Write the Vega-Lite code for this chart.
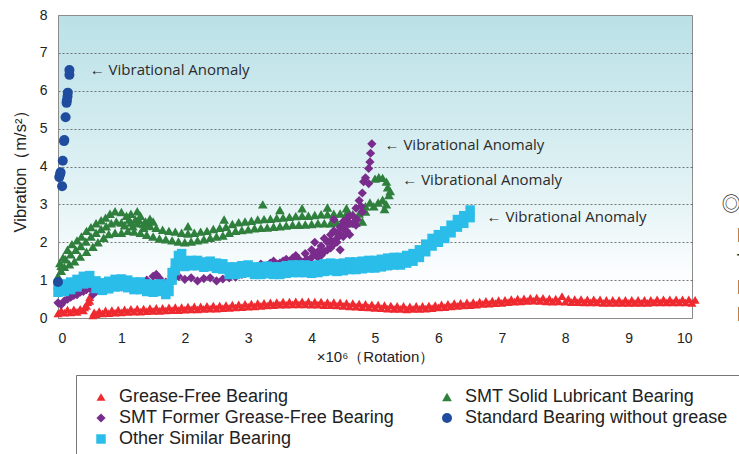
{
"$schema":"https://vega.github.io/schema/vega-lite/v6.json",
"width":634,"height":303,
"autosize":{"type":"none"},
"padding":{"left":58,"top":15,"right":47,"bottom":136},
"background":"white",
"view":{"stroke":"#8c8c8c","strokeWidth":1,"fill":{"gradient":"linear","x1":0,"y1":0,"x2":0,"y2":1,"stops":[{"offset":0,"color":"#bae1e7"},{"offset":0.35,"color":"#d1ebef"},{"offset":0.65,"color":"#e8f5f7"},{"offset":0.85,"color":"#fbfdfe"},{"offset":1,"color":"#ffffff"}]}},
"config":{"font":"Liberation Sans"},
"datasets":{
"notes":[{"x":0.5,"y":6.54,"t":"← Vibrational Anomaly"},{"x":5.15,"y":4.56,"t":"← Vibrational Anomaly"},{"x":5.43,"y":3.64,"t":"← Vibrational Anomaly"},{"x":6.76,"y":2.66,"t":"← Vibrational Anomaly"}],
"side":[{"x":10.47,"y":2.98,"t":"◎T"},{"x":10.7,"y":2.16,"t":"B"},{"x":10.7,"y":1.48,"t":"T"},{"x":10.7,"y":0.79,"t":"B"},{"x":10.7,"y":0.08,"t":"B"}],
"pts":[
{"s":"G","x":0,"y":0.12},{"s":"G","x":0.05,"y":0.2},{"s":"G","x":0.1,"y":0.14},{"s":"G","x":0.15,"y":0.22},{"s":"G","x":0.2,"y":0.15},{"s":"G","x":0.25,"y":0.23},{"s":"G","x":0.3,"y":0.16},{"s":"G","x":0.35,"y":0.24},{"s":"G","x":0.4,"y":0.2},{"s":"G","x":0.42,"y":0.28},{"s":"G","x":0.45,"y":0.32},{"s":"G","x":0.47,"y":0.42},{"s":"G","x":0.5,"y":0.45},{"s":"G","x":0.5,"y":0.55},{"s":"G","x":0.55,"y":0.07},{"s":"G","x":0.57,"y":0.15},{"s":"G","x":0.6,"y":0.1},{"s":"G","x":0.65,"y":0.18},{"s":"G","x":0.7,"y":0.12},{"s":"G","x":0.75,"y":0.2},{"s":"G","x":0.8,"y":0.13},{"s":"G","x":0.85,"y":0.21},{"s":"G","x":0.9,"y":0.14},{"s":"G","x":0.95,"y":0.22},{"s":"G","x":1.0,"y":0.15},{"s":"G","x":1.05,"y":0.23},{"s":"G","x":1.1,"y":0.16},{"s":"G","x":1.15,"y":0.24},{"s":"G","x":1.2,"y":0.17},{"s":"G","x":1.25,"y":0.25},{"s":"G","x":1.3,"y":0.17},{"s":"G","x":1.35,"y":0.25},{"s":"G","x":1.4,"y":0.18},{"s":"G","x":1.45,"y":0.26},{"s":"G","x":1.5,"y":0.19},{"s":"G","x":1.55,"y":0.27},{"s":"G","x":1.6,"y":0.19},{"s":"G","x":1.65,"y":0.27},{"s":"G","x":1.7,"y":0.2},{"s":"G","x":1.75,"y":0.28},{"s":"G","x":1.8,"y":0.21},{"s":"G","x":1.85,"y":0.29},{"s":"G","x":1.9,"y":0.21},{"s":"G","x":1.95,"y":0.29},{"s":"G","x":2.0,"y":0.22},{"s":"G","x":2.05,"y":0.3},{"s":"G","x":2.1,"y":0.23},{"s":"G","x":2.15,"y":0.31},{"s":"G","x":2.2,"y":0.23},{"s":"G","x":2.25,"y":0.31},{"s":"G","x":2.3,"y":0.24},{"s":"G","x":2.35,"y":0.32},{"s":"G","x":2.4,"y":0.25},{"s":"G","x":2.45,"y":0.33},{"s":"G","x":2.5,"y":0.25},{"s":"G","x":2.55,"y":0.33},{"s":"G","x":2.6,"y":0.26},{"s":"G","x":2.65,"y":0.34},{"s":"G","x":2.7,"y":0.27},{"s":"G","x":2.75,"y":0.35},{"s":"G","x":2.8,"y":0.28},{"s":"G","x":2.85,"y":0.36},{"s":"G","x":2.9,"y":0.29},{"s":"G","x":2.95,"y":0.37},{"s":"G","x":3.0,"y":0.3},{"s":"G","x":3.05,"y":0.38},{"s":"G","x":3.1,"y":0.31},{"s":"G","x":3.15,"y":0.39},{"s":"G","x":3.2,"y":0.32},{"s":"G","x":3.25,"y":0.4},{"s":"G","x":3.3,"y":0.33},{"s":"G","x":3.35,"y":0.41},{"s":"G","x":3.4,"y":0.34},{"s":"G","x":3.45,"y":0.42},{"s":"G","x":3.5,"y":0.35},{"s":"G","x":3.55,"y":0.43},{"s":"G","x":3.6,"y":0.35},{"s":"G","x":3.65,"y":0.43},{"s":"G","x":3.7,"y":0.36},{"s":"G","x":3.75,"y":0.44},{"s":"G","x":3.8,"y":0.36},{"s":"G","x":3.85,"y":0.44},{"s":"G","x":3.9,"y":0.36},{"s":"G","x":3.95,"y":0.44},{"s":"G","x":4.0,"y":0.35},{"s":"G","x":4.05,"y":0.43},{"s":"G","x":4.1,"y":0.35},{"s":"G","x":4.15,"y":0.43},{"s":"G","x":4.2,"y":0.34},{"s":"G","x":4.25,"y":0.42},{"s":"G","x":4.3,"y":0.34},{"s":"G","x":4.35,"y":0.42},{"s":"G","x":4.4,"y":0.33},{"s":"G","x":4.45,"y":0.41},{"s":"G","x":4.5,"y":0.32},{"s":"G","x":4.55,"y":0.4},{"s":"G","x":4.6,"y":0.31},{"s":"G","x":4.65,"y":0.39},{"s":"G","x":4.7,"y":0.3},{"s":"G","x":4.75,"y":0.38},{"s":"G","x":4.8,"y":0.29},{"s":"G","x":4.85,"y":0.37},{"s":"G","x":4.9,"y":0.28},{"s":"G","x":4.95,"y":0.36},{"s":"G","x":5.0,"y":0.27},{"s":"G","x":5.05,"y":0.35},{"s":"G","x":5.1,"y":0.26},{"s":"G","x":5.15,"y":0.34},{"s":"G","x":5.2,"y":0.25},{"s":"G","x":5.25,"y":0.33},{"s":"G","x":5.3,"y":0.24},{"s":"G","x":5.35,"y":0.32},{"s":"G","x":5.4,"y":0.24},{"s":"G","x":5.45,"y":0.32},{"s":"G","x":5.5,"y":0.23},{"s":"G","x":5.55,"y":0.31},{"s":"G","x":5.6,"y":0.24},{"s":"G","x":5.65,"y":0.32},{"s":"G","x":5.7,"y":0.24},{"s":"G","x":5.75,"y":0.32},{"s":"G","x":5.8,"y":0.25},{"s":"G","x":5.85,"y":0.33},{"s":"G","x":5.9,"y":0.26},{"s":"G","x":5.95,"y":0.34},{"s":"G","x":6.0,"y":0.28},{"s":"G","x":6.05,"y":0.36},{"s":"G","x":6.1,"y":0.29},{"s":"G","x":6.15,"y":0.37},{"s":"G","x":6.2,"y":0.31},{"s":"G","x":6.25,"y":0.39},{"s":"G","x":6.3,"y":0.32},{"s":"G","x":6.35,"y":0.4},{"s":"G","x":6.4,"y":0.33},{"s":"G","x":6.45,"y":0.41},{"s":"G","x":6.5,"y":0.34},{"s":"G","x":6.55,"y":0.42},{"s":"G","x":6.6,"y":0.35},{"s":"G","x":6.65,"y":0.43},{"s":"G","x":6.7,"y":0.37},{"s":"G","x":6.75,"y":0.45},{"s":"G","x":6.8,"y":0.38},{"s":"G","x":6.85,"y":0.46},{"s":"G","x":6.9,"y":0.39},{"s":"G","x":6.95,"y":0.47},{"s":"G","x":7.0,"y":0.4},{"s":"G","x":7.05,"y":0.48},{"s":"G","x":7.1,"y":0.42},{"s":"G","x":7.15,"y":0.5},{"s":"G","x":7.2,"y":0.43},{"s":"G","x":7.25,"y":0.51},{"s":"G","x":7.3,"y":0.44},{"s":"G","x":7.35,"y":0.52},{"s":"G","x":7.4,"y":0.45},{"s":"G","x":7.45,"y":0.53},{"s":"G","x":7.5,"y":0.46},{"s":"G","x":7.55,"y":0.54},{"s":"G","x":7.6,"y":0.45},{"s":"G","x":7.65,"y":0.53},{"s":"G","x":7.7,"y":0.44},{"s":"G","x":7.75,"y":0.52},{"s":"G","x":7.8,"y":0.43},{"s":"G","x":7.85,"y":0.51},{"s":"G","x":7.9,"y":0.44},{"s":"G","x":7.95,"y":0.58},{"s":"G","x":8.0,"y":0.43},{"s":"G","x":8.05,"y":0.51},{"s":"G","x":8.1,"y":0.42},{"s":"G","x":8.15,"y":0.5},{"s":"G","x":8.2,"y":0.42},{"s":"G","x":8.25,"y":0.5},{"s":"G","x":8.3,"y":0.41},{"s":"G","x":8.35,"y":0.49},{"s":"G","x":8.4,"y":0.41},{"s":"G","x":8.45,"y":0.49},{"s":"G","x":8.5,"y":0.41},{"s":"G","x":8.55,"y":0.49},{"s":"G","x":8.6,"y":0.4},{"s":"G","x":8.65,"y":0.48},{"s":"G","x":8.7,"y":0.4},{"s":"G","x":8.75,"y":0.48},{"s":"G","x":8.8,"y":0.4},{"s":"G","x":8.85,"y":0.48},{"s":"G","x":8.9,"y":0.4},{"s":"G","x":8.95,"y":0.48},{"s":"G","x":9.0,"y":0.4},{"s":"G","x":9.05,"y":0.48},{"s":"G","x":9.1,"y":0.4},{"s":"G","x":9.15,"y":0.48},{"s":"G","x":9.2,"y":0.4},{"s":"G","x":9.25,"y":0.48},{"s":"G","x":9.3,"y":0.4},{"s":"G","x":9.35,"y":0.48},{"s":"G","x":9.4,"y":0.41},{"s":"G","x":9.45,"y":0.49},{"s":"G","x":9.5,"y":0.41},{"s":"G","x":9.55,"y":0.49},{"s":"G","x":9.6,"y":0.41},{"s":"G","x":9.65,"y":0.49},{"s":"G","x":9.7,"y":0.41},{"s":"G","x":9.75,"y":0.49},{"s":"G","x":9.8,"y":0.41},{"s":"G","x":9.85,"y":0.49},{"s":"G","x":9.9,"y":0.41},{"s":"G","x":9.95,"y":0.49},{"s":"G","x":10.0,"y":0.4},{"s":"G","x":10.05,"y":0.48},
{"s":"S","x":0,"y":1.1},{"s":"S","x":0.05,"y":1.25},{"s":"S","x":0.1,"y":1.35},{"s":"S","x":0.18,"y":1.42},{"s":"S","x":0.26,"y":1.5},{"s":"S","x":0.35,"y":1.62},{"s":"S","x":0.45,"y":1.75},{"s":"S","x":0.55,"y":1.88},{"s":"S","x":0.63,"y":2.0},{"s":"S","x":0.72,"y":2.12},{"s":"S","x":0.8,"y":2.22},{"s":"S","x":0.9,"y":2.25},{"s":"S","x":1.0,"y":2.25},
{"s":"S","x":0.05,"y":1.38},{"s":"S","x":0.12,"y":1.55},{"s":"S","x":0.2,"y":1.68},{"s":"S","x":0.28,"y":1.8},{"s":"S","x":0.36,"y":1.9},{"s":"S","x":0.44,"y":2.02},{"s":"S","x":0.52,"y":2.15},{"s":"S","x":0.6,"y":2.25},{"s":"S","x":0.68,"y":2.35},{"s":"S","x":0.76,"y":2.42},{"s":"S","x":0.84,"y":2.5},{"s":"S","x":0.92,"y":2.55},{"s":"S","x":1.0,"y":2.52},{"s":"S","x":1.05,"y":2.45},
{"s":"S","x":1.12,"y":2.6},{"s":"S","x":1.28,"y":2.58},{"s":"S","x":1.42,"y":2.52},{"s":"S","x":1.5,"y":2.55},{"s":"S","x":1.18,"y":2.42},{"s":"S","x":1.35,"y":2.38},
{"s":"S","x":0.03,"y":1.45},{"s":"S","x":0.08,"y":1.6},{"s":"S","x":0.15,"y":1.8},{"s":"S","x":0.22,"y":1.95},{"s":"S","x":0.3,"y":2.05},{"s":"S","x":0.37,"y":2.15},{"s":"S","x":0.45,"y":2.3},{"s":"S","x":0.52,"y":2.4},{"s":"S","x":0.6,"y":2.5},{"s":"S","x":0.68,"y":2.58},{"s":"S","x":0.75,"y":2.65},{"s":"S","x":0.82,"y":2.75},{"s":"S","x":0.9,"y":2.82},{"s":"S","x":1.0,"y":2.8},{"s":"S","x":1.08,"y":2.7},{"s":"S","x":1.15,"y":2.75},{"s":"S","x":1.22,"y":2.6},{"s":"S","x":1.3,"y":2.7},{"s":"S","x":1.38,"y":2.55},{"s":"S","x":1.45,"y":2.62},
{"s":"S","x":1.1,"y":2.3},{"s":"S","x":1.15,"y":2.52},{"s":"S","x":1.2,"y":2.28},{"s":"S","x":1.25,"y":2.5},{"s":"S","x":1.3,"y":2.25},{"s":"S","x":1.35,"y":2.48},{"s":"S","x":1.4,"y":2.2},{"s":"S","x":1.45,"y":2.43},{"s":"S","x":1.5,"y":2.15},{"s":"S","x":1.55,"y":2.38},{"s":"S","x":1.6,"y":2.1},{"s":"S","x":1.65,"y":2.33},{"s":"S","x":1.7,"y":2.08},{"s":"S","x":1.75,"y":2.3},{"s":"S","x":1.8,"y":2.05},{"s":"S","x":1.85,"y":2.28},{"s":"S","x":1.9,"y":2.02},{"s":"S","x":1.95,"y":2.25},{"s":"S","x":2.0,"y":2.0},{"s":"S","x":2.05,"y":2.23},{"s":"S","x":2.1,"y":2.02},{"s":"S","x":2.15,"y":2.25},{"s":"S","x":2.2,"y":2.05},{"s":"S","x":2.25,"y":2.28},{"s":"S","x":2.3,"y":2.08},{"s":"S","x":2.35,"y":2.3},{"s":"S","x":2.4,"y":2.12},{"s":"S","x":2.45,"y":2.35},{"s":"S","x":2.5,"y":2.15},{"s":"S","x":2.55,"y":2.38},{"s":"S","x":2.6,"y":2.18},{"s":"S","x":2.65,"y":2.41},{"s":"S","x":2.7,"y":2.25},{"s":"S","x":2.75,"y":2.48},{"s":"S","x":2.8,"y":2.3},{"s":"S","x":2.85,"y":2.53},{"s":"S","x":2.9,"y":2.32},{"s":"S","x":2.95,"y":2.55},{"s":"S","x":3.0,"y":2.34},{"s":"S","x":3.05,"y":2.57},{"s":"S","x":3.1,"y":2.37},{"s":"S","x":3.15,"y":2.6},{"s":"S","x":3.2,"y":2.38},{"s":"S","x":3.25,"y":2.61},{"s":"S","x":3.3,"y":2.39},{"s":"S","x":3.35,"y":2.62},{"s":"S","x":3.4,"y":2.41},{"s":"S","x":3.45,"y":2.64},{"s":"S","x":3.5,"y":2.42},{"s":"S","x":3.55,"y":2.65},{"s":"S","x":3.6,"y":2.44},{"s":"S","x":3.65,"y":2.67},{"s":"S","x":3.7,"y":2.46},{"s":"S","x":3.75,"y":2.69},{"s":"S","x":3.8,"y":2.46},{"s":"S","x":3.85,"y":2.7},{"s":"S","x":3.9,"y":2.47},{"s":"S","x":3.95,"y":2.7},{"s":"S","x":4.0,"y":2.48},{"s":"S","x":4.05,"y":2.72},{"s":"S","x":4.1,"y":2.5},{"s":"S","x":4.15,"y":2.74},{"s":"S","x":4.2,"y":2.5},{"s":"S","x":4.25,"y":2.74},{"s":"S","x":4.3,"y":2.5},{"s":"S","x":4.35,"y":2.75},{"s":"S","x":4.4,"y":2.52},{"s":"S","x":4.45,"y":2.76},{"s":"S","x":4.5,"y":2.52},{"s":"S","x":4.55,"y":2.76},{"s":"S","x":4.6,"y":2.5},{"s":"S","x":4.65,"y":2.74},{"s":"S","x":4.7,"y":2.52},{"s":"S","x":4.75,"y":2.76},{"s":"S","x":4.8,"y":2.55},{"s":"S","x":4.85,"y":2.81},
{"s":"S","x":1.25,"y":2.82},{"s":"S","x":2.05,"y":2.42},{"s":"S","x":2.62,"y":2.6},{"s":"S","x":3.23,"y":3.0},{"s":"S","x":3.5,"y":2.85},{"s":"S","x":3.85,"y":2.9},{"s":"S","x":4.25,"y":2.92},{"s":"S","x":4.55,"y":2.9},
{"s":"S","x":4.85,"y":2.95},{"s":"S","x":4.92,"y":3.05},{"s":"S","x":4.98,"y":2.95},{"s":"S","x":5.05,"y":3.05},{"s":"S","x":5.12,"y":3.12},{"s":"S","x":5.18,"y":3.0},{"s":"S","x":5.22,"y":3.25},{"s":"S","x":5.15,"y":2.88},{"s":"S","x":5.0,"y":3.68},{"s":"S","x":5.06,"y":3.72},{"s":"S","x":5.12,"y":3.7},{"s":"S","x":5.18,"y":3.6},{"s":"S","x":5.2,"y":3.45},{"s":"S","x":5.24,"y":3.35},
{"s":"F","x":0,"y":0.4},{"s":"F","x":0.05,"y":0.35},{"s":"F","x":0.1,"y":0.45},{"s":"F","x":0.15,"y":0.5},{"s":"F","x":0.2,"y":0.55},{"s":"F","x":0.25,"y":0.6},{"s":"F","x":0.3,"y":0.62},{"s":"F","x":0.35,"y":0.68},{"s":"F","x":0.4,"y":0.7},{"s":"F","x":0.45,"y":0.75},{"s":"F","x":0.5,"y":0.78},{"s":"F","x":0.55,"y":0.62},{"s":"F","x":0.6,"y":0.7},{"s":"F","x":0.7,"y":0.72},{"s":"F","x":0.8,"y":0.8},{"s":"F","x":0.9,"y":0.85},{"s":"F","x":1.0,"y":0.82},{"s":"F","x":1.1,"y":0.88},{"s":"F","x":1.2,"y":0.9},{"s":"F","x":1.3,"y":0.95},{"s":"F","x":1.4,"y":1.0},{"s":"F","x":1.5,"y":1.1},{"s":"F","x":1.55,"y":1.15},{"s":"F","x":1.6,"y":1.05},{"s":"F","x":1.7,"y":0.95},{"s":"F","x":1.75,"y":0.9},{"s":"F","x":1.8,"y":1.0},{"s":"F","x":1.85,"y":1.08},{"s":"F","x":1.9,"y":1.1},{"s":"F","x":2.0,"y":1.02},{"s":"F","x":2.1,"y":1.06},{"s":"F","x":2.2,"y":0.98},{"s":"F","x":2.3,"y":1.04},{"s":"F","x":2.4,"y":1.06},{"s":"F","x":2.5,"y":0.98},{"s":"F","x":2.6,"y":1.03},{"s":"F","x":2.7,"y":1.06},{"s":"F","x":2.8,"y":1.08},{"s":"F","x":2.9,"y":1.15},{"s":"F","x":3.0,"y":1.2},{"s":"F","x":3.05,"y":1.35},{"s":"F","x":3.1,"y":1.3},{"s":"F","x":3.15,"y":1.28},{"s":"F","x":3.2,"y":1.42},{"s":"F","x":3.25,"y":1.32},{"s":"F","x":3.3,"y":1.38},{"s":"F","x":3.35,"y":1.45},{"s":"F","x":3.4,"y":1.5},{"s":"F","x":3.45,"y":1.42},{"s":"F","x":3.5,"y":1.45},{"s":"F","x":3.55,"y":1.5},{"s":"F","x":3.6,"y":1.55},{"s":"F","x":3.65,"y":1.48},{"s":"F","x":3.7,"y":1.58},{"s":"F","x":3.72,"y":1.42},{"s":"F","x":3.75,"y":1.65},{"s":"F","x":3.8,"y":1.55},{"s":"F","x":3.85,"y":1.45},{"s":"F","x":3.9,"y":1.7},{"s":"F","x":3.92,"y":1.55},{"s":"F","x":3.95,"y":1.5},{"s":"F","x":4.0,"y":1.8},{"s":"F","x":4.0,"y":1.6},{"s":"F","x":4.05,"y":2.0},{"s":"F","x":4.05,"y":1.7},{"s":"F","x":4.1,"y":1.75},{"s":"F","x":4.1,"y":1.6},{"s":"F","x":4.15,"y":1.9},{"s":"F","x":4.15,"y":1.65},{"s":"F","x":4.2,"y":2.1},{"s":"F","x":4.2,"y":1.75},{"s":"F","x":4.25,"y":2.0},{"s":"F","x":4.25,"y":1.8},{"s":"F","x":4.3,"y":2.2},{"s":"F","x":4.3,"y":1.85},{"s":"F","x":4.3,"y":2.05},{"s":"F","x":4.35,"y":2.3},{"s":"F","x":4.35,"y":2.6},{"s":"F","x":4.35,"y":1.95},{"s":"F","x":4.4,"y":2.1},{"s":"F","x":4.4,"y":2.0},{"s":"F","x":4.4,"y":2.25},{"s":"F","x":4.45,"y":2.4},{"s":"F","x":4.45,"y":1.8},{"s":"F","x":4.45,"y":2.2},{"s":"F","x":4.5,"y":2.55},{"s":"F","x":4.5,"y":2.15},{"s":"F","x":4.5,"y":2.35},{"s":"F","x":4.55,"y":2.3},{"s":"F","x":4.55,"y":2.6},{"s":"F","x":4.55,"y":2.45},{"s":"F","x":4.6,"y":2.5},{"s":"F","x":4.6,"y":2.2},{"s":"F","x":4.6,"y":2.7},{"s":"F","x":4.65,"y":2.7},{"s":"F","x":4.65,"y":2.5},{"s":"F","x":4.7,"y":2.9},{"s":"F","x":4.7,"y":2.45},{"s":"F","x":4.72,"y":2.6},{"s":"F","x":4.75,"y":3.1},{"s":"F","x":4.78,"y":2.95},{"s":"F","x":4.8,"y":3.3},{"s":"F","x":4.8,"y":2.8},{"s":"F","x":4.82,"y":3.6},{"s":"F","x":4.85,"y":3.7},{"s":"F","x":4.9,"y":3.55},{"s":"F","x":4.9,"y":3.95},{"s":"F","x":4.92,"y":4.12},{"s":"F","x":4.93,"y":4.35},{"s":"F","x":4.95,"y":4.6},
{"s":"O","x":0,"y":0.68},{"s":"O","x":0,"y":0.88},{"s":"O","x":0.1,"y":0.7},{"s":"O","x":0.1,"y":0.9},{"s":"O","x":0.2,"y":0.75},{"s":"O","x":0.2,"y":0.95},{"s":"O","x":0.3,"y":0.82},{"s":"O","x":0.3,"y":1.02},{"s":"O","x":0.4,"y":0.9},{"s":"O","x":0.4,"y":1.1},{"s":"O","x":0.5,"y":0.92},{"s":"O","x":0.5,"y":1.12},{"s":"O","x":0.6,"y":0.78},{"s":"O","x":0.6,"y":0.98},{"s":"O","x":0.7,"y":0.73},{"s":"O","x":0.7,"y":0.93},{"s":"O","x":0.8,"y":0.77},{"s":"O","x":0.8,"y":0.97},{"s":"O","x":0.9,"y":0.82},{"s":"O","x":0.9,"y":1.02},{"s":"O","x":1.0,"y":0.83},{"s":"O","x":1.0,"y":1.03},{"s":"O","x":1.1,"y":0.8},{"s":"O","x":1.1,"y":1.0},{"s":"O","x":1.2,"y":0.75},{"s":"O","x":1.2,"y":0.95},{"s":"O","x":1.3,"y":0.75},{"s":"O","x":1.3,"y":0.95},{"s":"O","x":1.4,"y":0.7},{"s":"O","x":1.4,"y":0.9},{"s":"O","x":1.5,"y":0.68},{"s":"O","x":1.5,"y":0.88},{"s":"O","x":1.6,"y":0.7},{"s":"O","x":1.6,"y":0.9},{"s":"O","x":1.7,"y":0.62},{"s":"O","x":1.7,"y":0.82},{"s":"O","x":1.75,"y":0.7},{"s":"O","x":1.75,"y":0.9},{"s":"O","x":1.8,"y":1.0},{"s":"O","x":1.8,"y":1.2},{"s":"O","x":1.85,"y":1.25},{"s":"O","x":1.85,"y":1.45},{"s":"O","x":1.9,"y":1.45},{"s":"O","x":1.9,"y":1.65},{"s":"O","x":1.95,"y":1.5},{"s":"O","x":1.95,"y":1.7},{"s":"O","x":2.0,"y":1.36},{"s":"O","x":2.0,"y":1.5},{"s":"O","x":2.1,"y":1.38},{"s":"O","x":2.1,"y":1.52},{"s":"O","x":2.2,"y":1.38},{"s":"O","x":2.2,"y":1.52},{"s":"O","x":2.3,"y":1.34},{"s":"O","x":2.3,"y":1.48},{"s":"O","x":2.4,"y":1.36},{"s":"O","x":2.4,"y":1.5},{"s":"O","x":2.5,"y":1.31},{"s":"O","x":2.5,"y":1.45},{"s":"O","x":2.6,"y":1.29},{"s":"O","x":2.6,"y":1.43},{"s":"O","x":2.7,"y":1.15},{"s":"O","x":2.7,"y":1.35},{"s":"O","x":2.8,"y":1.15},{"s":"O","x":2.8,"y":1.35},{"s":"O","x":2.9,"y":1.18},{"s":"O","x":2.9,"y":1.38},{"s":"O","x":3.0,"y":1.2},{"s":"O","x":3.0,"y":1.4},{"s":"O","x":3.1,"y":1.15},{"s":"O","x":3.1,"y":1.35},{"s":"O","x":3.2,"y":1.15},{"s":"O","x":3.2,"y":1.35},{"s":"O","x":3.3,"y":1.17},{"s":"O","x":3.3,"y":1.37},{"s":"O","x":3.4,"y":1.15},{"s":"O","x":3.4,"y":1.35},{"s":"O","x":3.5,"y":1.15},{"s":"O","x":3.5,"y":1.35},{"s":"O","x":3.6,"y":1.18},{"s":"O","x":3.6,"y":1.38},{"s":"O","x":3.7,"y":1.2},{"s":"O","x":3.7,"y":1.4},{"s":"O","x":3.8,"y":1.2},{"s":"O","x":3.8,"y":1.4},{"s":"O","x":3.9,"y":1.2},{"s":"O","x":3.9,"y":1.4},{"s":"O","x":4.0,"y":1.18},{"s":"O","x":4.0,"y":1.38},{"s":"O","x":4.1,"y":1.2},{"s":"O","x":4.1,"y":1.4},{"s":"O","x":4.2,"y":1.23},{"s":"O","x":4.2,"y":1.43},{"s":"O","x":4.3,"y":1.25},{"s":"O","x":4.3,"y":1.45},{"s":"O","x":4.4,"y":1.23},{"s":"O","x":4.4,"y":1.43},{"s":"O","x":4.5,"y":1.25},{"s":"O","x":4.5,"y":1.45},{"s":"O","x":4.6,"y":1.28},{"s":"O","x":4.6,"y":1.48},{"s":"O","x":4.7,"y":1.28},{"s":"O","x":4.7,"y":1.48},{"s":"O","x":4.8,"y":1.3},{"s":"O","x":4.8,"y":1.5},{"s":"O","x":4.9,"y":1.32},{"s":"O","x":4.9,"y":1.52},{"s":"O","x":5.0,"y":1.32},{"s":"O","x":5.0,"y":1.52},{"s":"O","x":5.1,"y":1.35},{"s":"O","x":5.1,"y":1.55},{"s":"O","x":5.2,"y":1.38},{"s":"O","x":5.2,"y":1.58},{"s":"O","x":5.3,"y":1.4},{"s":"O","x":5.3,"y":1.6},{"s":"O","x":5.4,"y":1.4},{"s":"O","x":5.4,"y":1.6},{"s":"O","x":5.5,"y":1.45},{"s":"O","x":5.5,"y":1.65},{"s":"O","x":5.6,"y":1.5},{"s":"O","x":5.6,"y":1.7},{"s":"O","x":5.7,"y":1.6},{"s":"O","x":5.7,"y":1.8},{"s":"O","x":5.8,"y":1.75},{"s":"O","x":5.8,"y":1.95},{"s":"O","x":5.9,"y":1.9},{"s":"O","x":5.9,"y":2.1},{"s":"O","x":6.0,"y":2.0},{"s":"O","x":6.0,"y":2.2},{"s":"O","x":6.1,"y":2.1},{"s":"O","x":6.1,"y":2.3},{"s":"O","x":6.2,"y":2.25},{"s":"O","x":6.2,"y":2.45},{"s":"O","x":6.3,"y":2.4},{"s":"O","x":6.3,"y":2.6},{"s":"O","x":6.4,"y":2.5},{"s":"O","x":6.4,"y":2.7},{"s":"O","x":6.5,"y":2.65},{"s":"O","x":6.5,"y":2.85},
{"s":"N","x":0,"y":0.95},{"s":"N","x":0.065,"y":3.48},{"s":"N","x":0.02,"y":3.72},{"s":"N","x":0.035,"y":3.8},{"s":"N","x":0.04,"y":3.85},{"s":"N","x":0.075,"y":4.15},{"s":"N","x":0.095,"y":4.67},{"s":"N","x":0.1,"y":4.7},{"s":"N","x":0.12,"y":5.3},{"s":"N","x":0.135,"y":5.68},{"s":"N","x":0.14,"y":5.75},{"s":"N","x":0.15,"y":5.85},{"s":"N","x":0.155,"y":5.95},{"s":"N","x":0.18,"y":6.42},{"s":"N","x":0.18,"y":6.55}
]},
"encoding":{
 "x":{"field":"x","type":"quantitative","scale":{"domain":[0,10],"nice":false,"zero":false},
  "axis":{"values":[0,1,2,3,4,5,6,7,8,9,10],"format":"d","labelOverlap":false,"title":"×10⁶（Rotation）","grid":false,"ticks":false,"domainColor":"#8c8c8c","labelFont":"Liberation Sans","labelFontSize":14,"labelColor":"#222","labelPadding":13,"titleFont":"Liberation Sans","titleFontSize":15,"titleFontWeight":"normal","titleColor":"#222","titlePadding":4}},
 "y":{"field":"y","type":"quantitative","scale":{"domain":[0,8],"nice":false,"zero":false},
  "axis":{"values":[0,1,2,3,4,5,6,7,8],"format":"d","labelOverlap":false,"title":"Vibration（m/s²）","grid":true,"gridColor":"#555","gridDash":[2,2],"gridWidth":0.8,"gridOpacity":{"condition":{"test":"datum.value == 0 || datum.value == 8","value":0},"value":1},"ticks":false,"domainColor":"#8c8c8c","labelFont":"Liberation Sans","labelFontSize":14,"labelColor":"#222","labelPadding":11,"titleFont":"Liberation Sans","titleFontSize":16.5,"titleFontWeight":"normal","titleColor":"#222","titlePadding":11}}
},
"layer":[
{"data":{"name":"pts"},
 "mark":{"type":"point","filled":true,"opacity":1},
 "encoding":{
  "color":{"field":"s","type":"nominal","scale":{"domain":["G","F","O","S","N"],"range":["#ee2a30","#7a2c8c","#2bbde9","#2f7f3d","#1f4c9e"]},
   "legend":{"orient":"none","legendX":18,"legendY":360,"columns":2,"columnPadding":40,"rowPadding":3,"padding":13,"symbolOffset":3,"strokeColor":"#777","title":null,"symbolSize":55,"labelFont":"Liberation Sans","labelFontSize":18,"labelColor":"#222","labelOffset":9,"labelLimit":400,
    "labelExpr":"{'G':'Grease-Free Bearing','S':'SMT Solid Lubricant Bearing','F':'SMT Former Grease-Free Bearing','N':'Standard Bearing without grease','O':'Other Similar Bearing'}[datum.label]"}},
  "shape":{"field":"s","type":"nominal","scale":{"domain":["G","F","O","S","N"],"range":["triangle-up","diamond","square","triangle-up","circle"]}},
  "size":{"field":"s","type":"nominal","scale":{"domain":["G","F","O","S","N"],"range":[80,100,100,140,38]},"legend":null}
 }},
{"data":{"name":"notes"},
 "mark":{"type":"text","align":"left","baseline":"middle","font":"Open Sans","fontSize":15,"color":"#2b2b2b"},
 "encoding":{"text":{"field":"t"}}},
{"data":{"name":"side"},
 "mark":{"type":"text","align":"left","baseline":"middle","font":"Noto Sans CJK JP","fontSize":19,"color":"#333","clip":false},
 "encoding":{"text":{"field":"t"}}}
]
}
